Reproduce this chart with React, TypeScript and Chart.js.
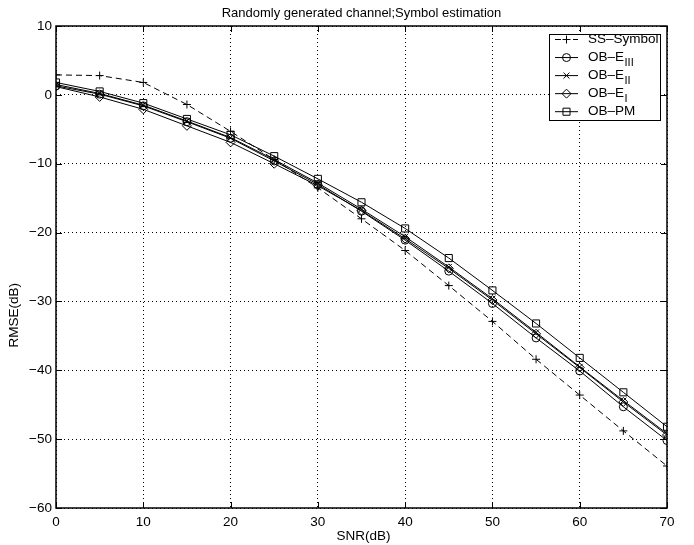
import React, { useEffect, useRef } from "react";
import { Chart, registerables } from "chart.js";

Chart.register(...registerables);

const snr = [0, 5, 10, 15, 20, 25, 30, 35, 40, 45, 50, 55, 60, 65, 70];
const ssSymbol = [2.9, 2.8, 1.8, -1.4, -5.3, -9.4, -13.5, -18.0, -22.6, -27.7, -32.9, -38.4, -43.6, -48.8, -53.9];
const obE3 = [1.3, 0.1, -1.6, -3.9, -6.3, -9.6, -13.0, -16.9, -21.1, -25.6, -30.3, -35.3, -40.1, -45.3, -50.2];
const obE2 = [1.5, 0.2, -1.5, -3.8, -6.2, -9.4, -12.8, -16.6, -20.6, -25.0, -29.6, -34.5, -39.5, -44.4, -49.2];
const obE1 = [1.2, -0.3, -2.1, -4.5, -6.9, -10.0, -13.2, -16.8, -20.9, -25.2, -29.8, -34.7, -39.6, -44.6, -49.4];
const obPM = [1.8, 0.5, -1.2, -3.5, -5.8, -8.9, -12.2, -15.6, -19.4, -23.7, -28.4, -33.2, -38.2, -43.2, -48.2];

const seriesNames = ["SS\u2013Symbol", "OB\u2013E", "OB\u2013E", "OB\u2013E", "OB\u2013PM"];
const seriesSubs = ["", "III", "II", "I", ""];
const chartTitle = "Randomly generated channel;Symbol estimation";
const xTitle = "SNR(dB)";
const yTitle = "RMSE(dB)";

const FONT = '"Liberation Sans", Arial, Helvetica, sans-serif';

function drawMarker(ctx: CanvasRenderingContext2D, style: string, r: number, x: number, y: number) {
  ctx.beginPath();
  if (style === "cross") {
    ctx.moveTo(x - r, y); ctx.lineTo(x + r, y);
    ctx.moveTo(x, y - r); ctx.lineTo(x, y + r);
  } else if (style === "crossRot") {
    const o = r * Math.SQRT1_2;
    ctx.moveTo(x - o, y - o); ctx.lineTo(x + o, y + o);
    ctx.moveTo(x - o, y + o); ctx.lineTo(x + o, y - o);
  } else if (style === "circle") {
    ctx.arc(x, y, r, 0, Math.PI * 2);
  } else if (style === "rectRot") {
    ctx.moveTo(x - r, y); ctx.lineTo(x, y - r); ctx.lineTo(x + r, y); ctx.lineTo(x, y + r); ctx.closePath();
  } else if (style === "rect") {
    const s = r * Math.SQRT1_2;
    ctx.rect(x - s, y - s, 2 * s, 2 * s);
  }
  ctx.stroke();
}

const decorPlugin = {
  id: "decor",
  afterDraw(chart: any) {
    const { ctx, chartArea: a, scales } = chart;
    const xs = scales.x, ys = scales.y;
    ctx.save();
    // inward ticks
    ctx.strokeStyle = "#000";
    ctx.lineWidth = 1;
    ctx.beginPath();
    const tl = 6;
    xs.ticks.forEach((t: any) => {
      const px = Math.round(xs.getPixelForValue(t.value)) + 0.5;
      ctx.moveTo(px, a.bottom); ctx.lineTo(px, a.bottom - tl);
      ctx.moveTo(px, a.top); ctx.lineTo(px, a.top + tl);
    });
    ys.ticks.forEach((t: any) => {
      const py = Math.round(ys.getPixelForValue(t.value)) + 0.5;
      ctx.moveTo(a.left, py); ctx.lineTo(a.left + tl, py);
      ctx.moveTo(a.right, py); ctx.lineTo(a.right - tl, py);
    });
    ctx.stroke();
    // box
    ctx.lineWidth = 1.5;
    ctx.strokeRect(a.left, a.top, a.right - a.left, a.bottom - a.top);

    // titles
    ctx.fillStyle = "#000";
    ctx.textAlign = "center";
    ctx.textBaseline = "middle";
    ctx.font = `13px ${FONT}`;
    ctx.fillText(chartTitle, (a.left + a.right) / 2, 13);
    ctx.font = `13.5px ${FONT}`;
    ctx.fillText(xTitle, (a.left + a.right) / 2 + 2, 536);
    ctx.save();
    ctx.translate(14, a.top + (a.bottom - a.top) * 0.6);
    ctx.rotate(-Math.PI / 2);
    ctx.fillText(yTitle, 0, 0);
    ctx.restore();

    // legend
    const lx0 = 549, lx1 = 660, ly0 = 34, ly1 = 120;
    ctx.fillStyle = "#fff";
    ctx.fillRect(lx0, ly0, lx1 - lx0, ly1 - ly0);
    ctx.strokeStyle = "#000";
    ctx.lineWidth = 1;
    ctx.strokeRect(lx0 + 0.5, ly0 + 0.5, lx1 - lx0, ly1 - ly0);
    const rowH = 18.05;
    chart.data.datasets.forEach((ds: any, i: number) => {
      const cy = ly0 + 5.5 + rowH * i;
      ctx.strokeStyle = "#000";
      ctx.lineWidth = 1;
      ctx.beginPath();
      ctx.setLineDash(ds.borderDash && ds.borderDash.length ? [6, 3] : []);
      ctx.moveTo(555, cy); ctx.lineTo(578, cy);
      ctx.stroke();
      ctx.setLineDash([]);
      drawMarker(ctx, ds.pointStyle, ds.pointRadius, 566.5, cy);
      ctx.fillStyle = "#000";
      ctx.textAlign = "left";
      ctx.textBaseline = "middle";
      ctx.font = `13.5px ${FONT}`;
      const sub = seriesSubs[i];
      const name = seriesNames[i];
      ctx.fillText(name, 588, cy);
      if (sub) {
        const w = ctx.measureText(name).width;
        ctx.font = `11px ${FONT}`;
        ctx.fillText(sub, 588 + w + 0.5, cy + 5.5);
      }
    });
    ctx.restore();
  },
};

function mk(label: string, data: number[], style: string, r: number, dashed = false) {
  return {
    label,
    data: snr.map((x, i) => ({ x, y: data[i] })),
    borderColor: "#000",
    borderWidth: 1,
    borderDash: dashed ? [6, 4] : [],
    pointStyle: style,
    pointRadius: r,
    pointBorderColor: "#000",
    pointBackgroundColor: "rgba(0,0,0,0)",
    pointBorderWidth: 1,
    tension: 0,
    fill: false,
  };
}

export default function App() {
  const ref = useRef<HTMLCanvasElement | null>(null);
  useEffect(() => {
    document.body.style.margin = "0";
    const canvas = ref.current!;
    const chart = new Chart(canvas, {
      type: "line",
      data: {
        datasets: [
          mk(seriesNames[0], ssSymbol, "cross", 4, true),
          mk(seriesNames[1] + seriesSubs[1], obE3, "circle", 4),
          mk(seriesNames[2] + seriesSubs[2], obE2, "crossRot", 4.2),
          mk(seriesNames[3] + seriesSubs[3], obE1, "rectRot", 4.5),
          mk(seriesNames[4], obPM, "rect", 5),
        ],
      },
      options: {
        animation: false,
        responsive: false,
        devicePixelRatio: 1,
        layout: { padding: { left: 0, top: 26, right: 27, bottom: 0 } },
        plugins: { legend: { display: false }, title: { display: false }, tooltip: { enabled: false } },
        scales: {
          x: {
            type: "linear",
            min: 0,
            max: 70,
            afterFit: (s: any) => { s.height = 37; },
            ticks: { stepSize: 10, color: "#000", font: { family: FONT, size: 13.5 }, padding: 6, maxRotation: 0 },
            grid: { color: "#000", lineWidth: 1, drawTicks: false },
            border: { display: false, dash: [1, 3] },
          },
          y: {
            type: "linear",
            min: -60,
            max: 10,
            afterFit: (s: any) => { s.width = 56; },
            ticks: {
              stepSize: 10,
              color: "#000",
              font: { family: FONT, size: 13.5 },
              padding: 4,
              callback: (v: any) => String(v).replace("-", "\u2212"),
            },
            grid: { color: "#000", lineWidth: 1, drawTicks: false },
            border: { display: false, dash: [1, 3] },
          },
        },
      },
      plugins: [decorPlugin],
    } as any);
    return () => chart.destroy();
  }, []);
  return <canvas ref={ref} width={694} height={545} style={{ display: "block" }} />;
}
